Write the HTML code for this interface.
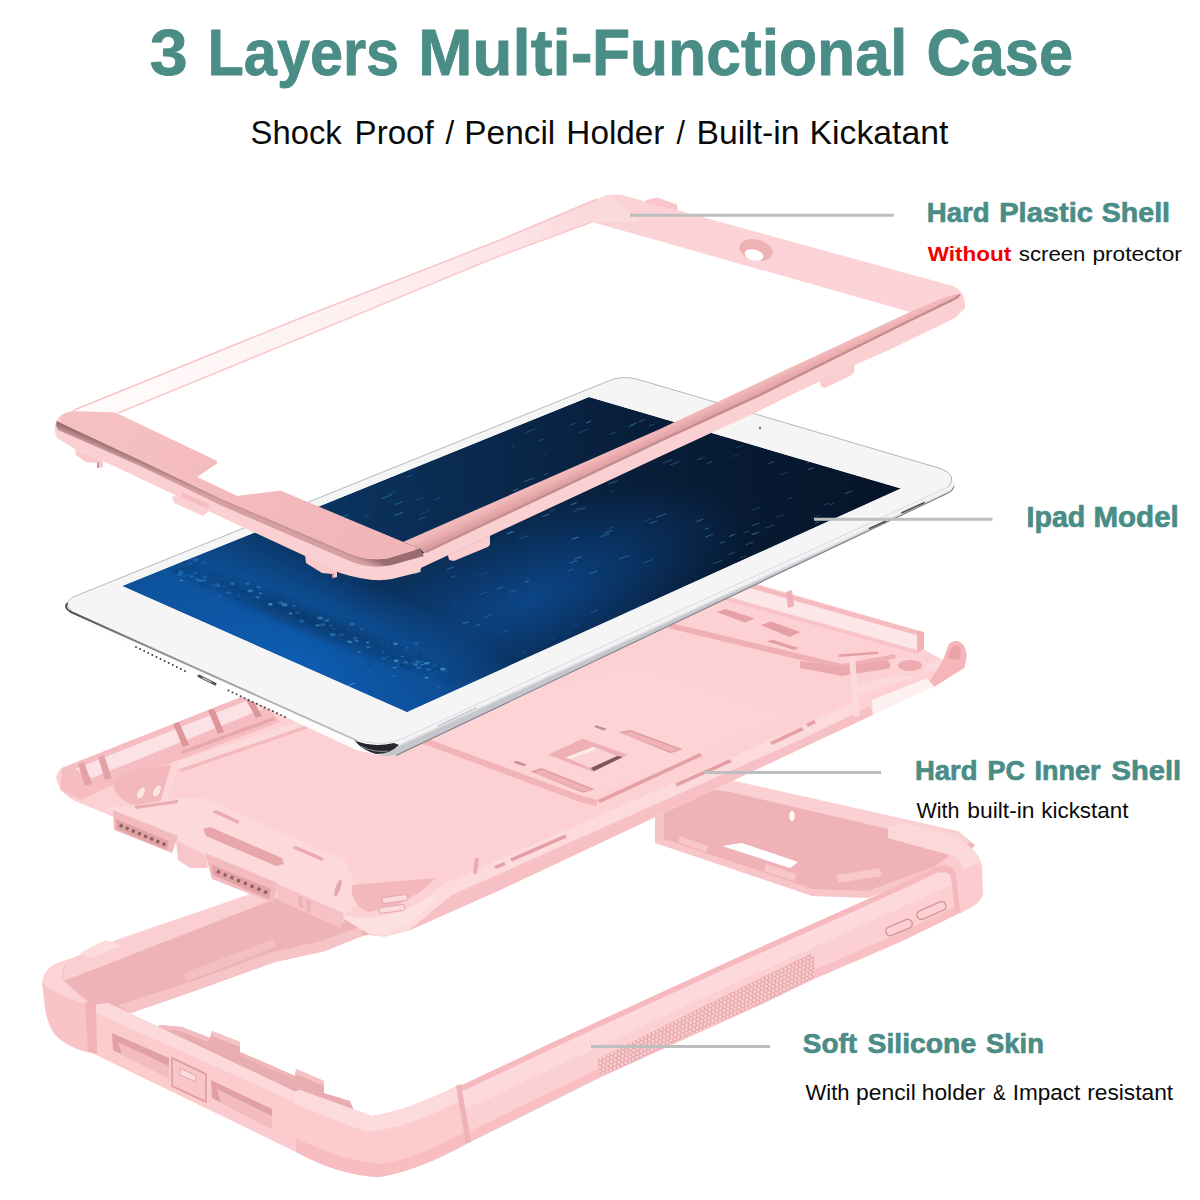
<!DOCTYPE html>
<html lang="en">
<head>
<meta charset="utf-8">
<title>3 Layers Multi-Functional Case</title>
<style>
html,body{margin:0;padding:0;background:#fff;}
body{width:1200px;height:1200px;overflow:hidden;position:relative;font-family:"Liberation Sans",sans-serif;}
svg{position:absolute;left:0;top:0;display:block}
text{font-family:"Liberation Sans",sans-serif;}
.h{font-weight:700;fill:#4a8c86;}
.s{stroke:#4a8c86;stroke-width:0.7px;stroke-linejoin:round;}
.t{stroke:#4a8c86;stroke-width:0.8px;stroke-linejoin:round;}
.b{fill:#0a0a0a;}
</style>
</head>
<body>
<svg id="art" width="1200" height="1200" viewBox="0 0 1200 1200">
<defs>
<pattern id="hex" width="4.2" height="7.2" patternUnits="userSpaceOnUse" patternTransform="rotate(-26)">
<rect width="4.2" height="7.2" fill="#df9ea2"/>
<circle cx="2.1" cy="1.8" r="1.75" fill="#fbccd0"/>
<circle cx="0" cy="5.4" r="1.75" fill="#fbccd0"/>
<circle cx="4.2" cy="5.4" r="1.75" fill="#fbccd0"/>
</pattern>
<linearGradient id="scr" gradientUnits="userSpaceOnUse" x1="150" y1="570" x2="880" y2="490">
<stop offset="0" stop-color="#0c4079"/>
<stop offset="0.4" stop-color="#0a2c52"/>
<stop offset="0.7" stop-color="#081d38"/>
<stop offset="1" stop-color="#06152a"/>
</linearGradient>
<radialGradient id="scr2" gradientUnits="userSpaceOnUse" cx="300" cy="660" r="340" gradientTransform="translate(300 660) rotate(23) scale(1 0.3) translate(-300 -660)">
<stop offset="0" stop-color="#0e5db2" stop-opacity="1"/>
<stop offset="0.5" stop-color="#0e59aa" stop-opacity="0.75"/>
<stop offset="1" stop-color="#0e59aa" stop-opacity="0"/>
</radialGradient>
<radialGradient id="scr3" gradientUnits="userSpaceOnUse" cx="530" cy="600" r="230" gradientTransform="translate(530 600) rotate(-22) scale(1 0.36) translate(-530 -600)">
<stop offset="0" stop-color="#0d4f9c" stop-opacity="0.75"/>
<stop offset="1" stop-color="#0d4f9c" stop-opacity="0"/>
</radialGradient>
<linearGradient id="lbar" gradientUnits="userSpaceOnUse" x1="100" y1="410" x2="600" y2="205">
<stop offset="0" stop-color="#fffbfb"/>
<stop offset="0.5" stop-color="#fef0f1"/>
<stop offset="0.8" stop-color="#fde5e7"/>
<stop offset="1" stop-color="#fbd7da"/>
</linearGradient>
<linearGradient id="rlip" gradientUnits="userSpaceOnUse" x1="660" y1="429" x2="665.5" y2="441">
<stop offset="0" stop-color="#f2b9ba"/>
<stop offset="0.55" stop-color="#e6a7a9"/>
<stop offset="1" stop-color="#d39a9c"/>
</linearGradient>
<linearGradient id="ftop" gradientUnits="userSpaceOnUse" x1="100" y1="410" x2="400" y2="560">
<stop offset="0" stop-color="#f6c0c3"/>
<stop offset="1" stop-color="#f1b4b7"/>
</linearGradient>
<linearGradient id="iside" gradientUnits="userSpaceOnUse" x1="660" y1="611" x2="666" y2="624">
<stop offset="0" stop-color="#c9cbd0"/>
<stop offset="0.18" stop-color="#fbfbfb"/>
<stop offset="0.8" stop-color="#f1f1f3"/>
<stop offset="1" stop-color="#c4c6cb"/>
</linearGradient>
<linearGradient id="iedge" gradientUnits="userSpaceOnUse" x1="66" y1="606" x2="356" y2="745">
<stop offset="0" stop-color="#4a4c50"/>
<stop offset="0.3" stop-color="#8d9095"/>
<stop offset="1" stop-color="#c4c6ca"/>
</linearGradient>
<radialGradient id="scr4" gradientUnits="userSpaceOnUse" cx="312" cy="621" r="175" gradientTransform="translate(312 621) rotate(22) scale(1 0.1) translate(-312 -621)">
<stop offset="0" stop-color="#072a52" stop-opacity="0.6"/>
<stop offset="1" stop-color="#072a52" stop-opacity="0"/>
</radialGradient>
<linearGradient id="tbar" gradientUnits="userSpaceOnUse" x1="600" y1="210" x2="960" y2="300">
<stop offset="0" stop-color="#fbd3d6"/>
<stop offset="1" stop-color="#fcd4d7"/>
</linearGradient>
<linearGradient id="groove" gradientUnits="userSpaceOnUse" x1="143" y1="460" x2="140" y2="467">
<stop offset="0" stop-color="#9a6e71"/>
<stop offset="1" stop-color="#d6a0a3"/>
</linearGradient>

</defs>
<rect width="1200" height="1200" fill="#fff"/>
<g id="skin">
<!-- back-left bar -->
<polygon points="48,974 70,959 116,940 300,877 300,892 66,982" fill="#fbcfd2"/>
<polygon points="80,953 95,945 106,940 122,946 90,958" fill="#fddcde"/>
<polygon points="64,981 300,889 420,850 420,925 362,936 325,951 275,962 200,989 131,1013 92,1005" fill="#eeb3b7"/>
<polygon points="131,1013 200,989 275,962 325,951 362,936 362,926 320,941 270,953 196,980 118,1005" fill="#f6c3c6"/>
<polygon points="184,973 274,939 276,947 186,982" fill="#f4bfc2"/>
<!-- back-right wall (inside visible) -->
<polygon points="655,810 700,776 732,783 956,833 975,845 960,862 868,896 813,894 655,840" fill="#efb3b7"/>
<polygon points="655,836 813,889 868,891 958,858 960,864 868,898 812,896 655,843" fill="#f8c6c9"/>
<polygon points="700,775 735,781 958,831 972,842 962,846 730,792 690,786" fill="#fbd0d3"/>
<polygon points="655,810 664,808 664,842 655,840" fill="#f7c4c7"/>
<polygon points="722,846 742,843 798,862 790,868" fill="#fff"/>
<polygon points="680,836 708,846 706,852 678,842" fill="#f7c7ca"/>
<polygon points="766,864 796,874 794,881 764,871" fill="#f7c7ca"/>
<polygon points="836,875 880,868 882,876 838,883" fill="#f7c7ca"/>
<ellipse cx="792" cy="816" rx="2.5" ry="5" fill="#fff"/>
<!-- inner back of front-left bar -->
<polygon points="150,1050 159,1025 182,1027 210,1038 212,1031 240,1042 240,1052 295,1076 296,1069 324,1081 324,1093 350,1101 353,1108 353,1130 300,1120" fill="#e8adb1"/>
<polygon points="159,1025 182,1027 210,1038 208,1042 180,1031 160,1029" fill="#f3bcc0"/>
<polygon points="212,1031 240,1042 240,1047 212,1036" fill="#f5c2c5"/>
<polygon points="296,1069 324,1081 324,1086 296,1074" fill="#f5c2c5"/>
<polygon points="240,1052 295,1076 295,1080 240,1056" fill="#f0b6ba"/>
<!-- front-left bar -->
<polygon points="92,1005 108,1003 296,1092 296,1152 92,1053" fill="#fbcbce"/>
<polygon points="92,1005 108,1003 296,1092 292,1101 96,1013" fill="#fdd9db"/>
<polygon points="112,1033 169,1058 169,1078 113,1050" fill="#e0a0a4"/>
<polygon points="118,1042 169,1066 169,1078 122,1055" fill="#f3bcc0"/>
<polygon points="211,1080 272,1109 272,1129 212,1098" fill="#e0a0a4"/>
<polygon points="217,1089 272,1116 272,1129 221,1103" fill="#f3bcc0"/>
<polygon points="172,1058 206,1074 206,1102 172,1086" fill="#f8c5c8" stroke="#dc9a9e" stroke-width="1.5"/>
<polygon points="180,1068 196,1076 196,1082 180,1075" fill="#fddcde" stroke="#e3a6aa" stroke-width="1"/>
<!-- left corner block -->
<path d="M42,983 Q44,968 60,962 L70,959 Q60,972 66,982 L92,1005 L93,1053 Q70,1050 54,1034 Q46,1020 45,1008 Z" fill="#f9c4c8"/>
<path d="M42,983 Q44,968 60,962 L70,959 Q58,970 64,982 L90,1005 Q70,1000 52,990 Z" fill="#fcd3d6"/>
<path d="M85,1003 Q90,1000 96,1004 L97,1054 L88,1052 Z" fill="#f2b3b7"/>
<!-- right bar -->
<polygon points="460,1086 560,1039 732,960 875,896 934,868 957,864 962,912 900,942 815,978.5 760,1005 700,1032 600,1077.5 470,1142" fill="#fccfd2"/>
<polygon points="460,1086 560,1039 732,960 875,896 934,868 937,873 877,901 734,965 561,1044.5 461,1092" fill="#f6b9bd"/>
<polygon points="461,1092 561,1044.5 734,965 877,901 937,873 956,868 958,882 880,917 737,982 564,1063 464,1110" fill="#fdd9dc"/>
<polygon points="468,1132 600,1068 700,1023 760,996 815,969.5 900,933 958,905 962,912 900,942 815,978.5 760,1005 700,1032 600,1077.5 470,1142" fill="#f8c0c4"/>
<!-- grip texture -->
<polygon points="598,1059 700,1008 810,954 814,956 815,977.5 760,1004 700,1031 600,1076.5 598,1073" fill="url(#hex)"/>
<!-- buttons -->
<rect x="-14" y="-4.5" width="28" height="9" rx="4.5" transform="translate(899,927.5) rotate(-23)" fill="#fccfd2" stroke="#d9969a" stroke-width="1.5"/>
<rect x="-15.5" y="-4.5" width="31" height="9" rx="4.5" transform="translate(931.5,910.5) rotate(-24)" fill="#fccfd2" stroke="#d9969a" stroke-width="1.5"/>
<!-- right corner block -->
<path d="M888,827 L903,823 L950,835 Q975,845 982,866 L983,893 Q982,904 960,913 L955,874 Q952,862 933,868 L950,855 L888,838 Z" fill="#fbcbcf"/>
<path d="M888,827 L903,823 L950,835 Q975,845 981,862 L963,870 Q960,858 950,855 L888,838 Z" fill="#fdd8db"/>
<path d="M933,868 Q952,861 956,874 L960,913 L955,910 L951,878 Q949,870 938,873 Z" fill="#f4b8bc"/>
<!-- bottom corner block -->
<path d="M292,1092 L300,1090 L372,1116 Q410,1110 458,1085 L468,1143 Q420,1170 380,1177 Q340,1176 296,1152 Z" fill="#fbcbce"/>
<path d="M292,1092 L300,1090 L372,1116 Q410,1110 458,1085 L461,1100 Q410,1128 366,1132 L294,1104 Z" fill="#fddadc"/>
<path d="M296,1138 Q340,1160 380,1164 Q420,1158 466,1131 L468,1143 Q420,1170 380,1177 Q340,1176 296,1152 Z" fill="#f7bdc1"/>
<path d="M456,1086 L461,1084 L471,1142 L466,1144 Z" fill="#efb2b6"/>
</g>

<g id="shell">
<!-- body -->
<path d="M56,778 Q57,770 64,767 L250,693.5 L669,558.5 L923,632 L923,649 L943,660 L949,644 Q957,637 964,646 Q969,655 964,668 L800,749 L500,890 L408,930 Q380,940 368,934 L343,916 L280,886 L80,803 Q60,796 56,778 Z" fill="#fdd0d3"/>
<!-- back wall band (translucent) -->
<polygon points="690,566 923,632 923,648 917,653 700,592" fill="#fce6e8"/>
<polygon points="690,566 923,632 923,637 690,571" fill="#f5bcc0"/>
<polygon points="700,589 917,650 917,654 700,593" fill="#f7c3c7"/>
<polygon points="786,592 792,590 794,606 788,608" fill="#eeb0b4"/>
<polygon points="917,631 924,632 924,649 917,653" fill="#f1b1b5"/>
<!-- rim along right-bottom edge -->
<polygon points="444,884 800,727 855,701 860,713 800,749 500,890 408,931 380,938" fill="#fddadc"/>
<polygon points="452,895 800,740 870,706 873,715 800,749 500,890 408,931" fill="#f7c0c4"/>
<!-- left wall with ribs -->
<polygon points="62,768 250,693.5 262,700 280,722 113,785 80,800 60,790" fill="#f5bdc1"/>
<polygon points="75,769 250,699.5 263,709 92,778" fill="#fce2e4"/>
<polygon points="78,764 84,762 92,784 85,786" fill="#e5a2a6"/>
<polygon points="98,757 104,755 112,778 105,780" fill="#e5a2a6"/>
<polygon points="173,724 179,722 189,745 183,747" fill="#dc979b"/>
<polygon points="208,710.5 214,708.5 224,732 218,734" fill="#dc979b"/>
<polygon points="244,696.5 250,694.5 262,716 256,718" fill="#dc979b"/>
<polygon points="172,763 300,721 340,708 342,713 302,727 180,769" fill="#fcdadc"/>
<polygon points="180,769 302,727 342,713 343,716 303,730 181,772" fill="#f3b9bd"/>
<polygon points="181,751 274,717 275,720 182,754" fill="#e7a6aa"/>
<!-- left corner recess -->
<path d="M113,786 Q118,775 134,770 L178,764 L166,800 L150,808 Q120,806 113,786 Z" fill="#f3b8bc"/>
<polygon points="172,762 180,760 168,801 160,803" fill="#fcd6d9"/>
<ellipse cx="141" cy="793" rx="3" ry="6" transform="rotate(28 141 793)" fill="#fde6e7"/>
<ellipse cx="157" cy="791" rx="3" ry="6" transform="rotate(28 157 791)" fill="#fde6e7"/>
<!-- light plate along front edge -->
<path d="M132,806 L178,798 Q196,796 208,800 L345,860 L362,900 L343,916 L280,886 L100,808 Z" fill="#fdd9dc"/>
<polygon points="134,806 178,800 178,803 136,809" fill="#eaacb0"/>
<polygon points="212,812 216,810 240,821 238,824" fill="#eaacb0"/>
<polygon points="292,848 296,846 324,858 322,861" fill="#eaacb0"/>
<path d="M203,829 L210,827 L282,858 L284,864 L276,866 L206,836 Z" fill="#e7a6aa"/>
<!-- grille blocks -->
<polygon points="113,810 178,836 172,853 114,830" fill="#f4bbbf"/>
<polygon points="116,819 169,841 167,850 116,829" fill="#e2a1a5"/><rect x="119.5" y="824.2" width="3.2" height="3.2" fill="#8e5f63" transform="rotate(22 121.1 825.8)"/><rect x="125.6" y="826.8" width="3.2" height="3.2" fill="#8e5f63" transform="rotate(22 127.2 828.4)"/><rect x="131.7" y="829.5" width="3.2" height="3.2" fill="#8e5f63" transform="rotate(22 133.3 831.1)"/><rect x="137.8" y="832.1" width="3.2" height="3.2" fill="#8e5f63" transform="rotate(22 139.4 833.7)"/><rect x="144.0" y="834.7" width="3.2" height="3.2" fill="#8e5f63" transform="rotate(22 145.6 836.3)"/><rect x="150.1" y="837.3" width="3.2" height="3.2" fill="#8e5f63" transform="rotate(22 151.7 838.9)"/><rect x="156.2" y="840.0" width="3.2" height="3.2" fill="#8e5f63" transform="rotate(22 157.8 841.6)"/><rect x="162.3" y="842.6" width="3.2" height="3.2" fill="#8e5f63" transform="rotate(22 163.9 844.2)"/>
<polygon points="205,853 278,883 273,903 212,879" fill="#f4bbbf"/><path d="M276,883 L343,913 L345,920 L340,928 L278,900 Z" fill="#f7c2c6"/><polygon points="298,895 302,897 303,909 299,907" fill="#eeb0b4"/><polygon points="306,899 310,901 311,913 307,911" fill="#eeb0b4"/>
<polygon points="212,865 271,889 269,899 213,875" fill="#e2a1a5"/><rect x="216.8" y="870.3" width="3.2" height="3.2" fill="#8e5f63" transform="rotate(22 218.4 871.9)"/><rect x="223.5" y="873.2" width="3.2" height="3.2" fill="#8e5f63" transform="rotate(22 225.1 874.8)"/><rect x="230.3" y="876.1" width="3.2" height="3.2" fill="#8e5f63" transform="rotate(22 231.9 877.7)"/><rect x="237.0" y="879.0" width="3.2" height="3.2" fill="#8e5f63" transform="rotate(22 238.6 880.6)"/><rect x="243.8" y="881.8" width="3.2" height="3.2" fill="#8e5f63" transform="rotate(22 245.4 883.4)"/><rect x="250.5" y="884.7" width="3.2" height="3.2" fill="#8e5f63" transform="rotate(22 252.1 886.3)"/><rect x="257.3" y="887.6" width="3.2" height="3.2" fill="#8e5f63" transform="rotate(22 258.9 889.2)"/><rect x="264.0" y="890.5" width="3.2" height="3.2" fill="#8e5f63" transform="rotate(22 265.6 892.1)"/>
<polygon points="176,840 206,856 208,868 190,868 178,860" fill="#f8c5c8"/>
<!-- bottom corner recess -->
<path d="M352,885 L436,878 L420,892 L392,908 L368,912 Q350,904 352,885 Z" fill="#f3b8bc"/>
<rect x="-13" y="-3" width="26" height="6" rx="3" transform="translate(395,899) rotate(-8)" fill="#fcdadc" stroke="#e6a7ab" stroke-width="1"/>
<rect x="-13" y="-3" width="26" height="6" rx="3" transform="translate(392,909) rotate(-8)" fill="#fcdadc" stroke="#e6a7ab" stroke-width="1"/>
<path d="M344,916 Q372,920 400,912 Q420,904 432,894 L436,900 Q410,926 380,936 Q366,934 343,918 Z" fill="#fde0e2"/>
<ellipse cx="338" cy="888" rx="2.5" ry="9" transform="rotate(18 338 888)" fill="#e7a6aa"/>
<!-- kickstand recess -->
<polygon points="423,737 585,798 701,755 790,715 640,664 521,692" fill="#fdd8da" opacity="0.4"/>
<polygon points="423,737 585,797 583,803 421,743" fill="#f1b4b8"/>
<polygon points="585,797 598,800 596,806 583,803" fill="#f1b4b8"/>
<!-- slots centre -->
<polygon points="618.7,732 630.7,730 682.7,749.3 670.7,753.3" fill="#e29ea2"/>
<polygon points="622,733.5 631,731.8 679,749.5 671,751.8" fill="#eeb2b6"/>
<polygon points="530.7,771.5 541.3,768 594.7,789.3 582.7,792.8" fill="#e29ea2"/>
<polygon points="534,773 542,770 591,789.5 583,791.5" fill="#eeb2b6"/>
<polygon points="548,754.7 582.7,738.7 628,754.7 593.3,772" fill="#eeb0b4"/>
<polygon points="565.3,757.3 593.3,746.7 617.3,756 590.7,768" fill="#fbd3d6"/>
<polygon points="566,757.5 593,747.2 597,748.8 570,759.3" fill="#fdeced"/>
<polygon points="590.7,768 617.3,756 623,757 594,771" fill="#7e5558"/>
<polygon points="596,725.3 606.7,728.8 604,730.5 594,727" fill="#c98b8f"/>
<polygon points="516,760.8 526.7,764.5 524,766.2 513.5,762.5" fill="#c98b8f"/>
<!-- thin slots along edge -->
<polygon points="598,800 700,753 702,756 600,803" fill="#e4a0a4"/>
<polygon points="675,783.5 730,759 732,762 677,786.5" fill="#e4a0a4"/>
<polygon points="510,858.5 565,834.5 567,837.5 512,861.5" fill="#e4a0a4"/>
<polygon points="494,866 504,862 506,865 496,869" fill="#e4a0a4"/>
<polygon points="770,742 802,727 804,730 772,745" fill="#e4a0a4"/>
<polygon points="806,724 814,720 816,723 808,727" fill="#e4a0a4"/>
<!-- upper right raised plate edge + slots -->
<polygon points="671,623 842,664 895,654 896,658 842,670 668,628" fill="#efb0b4"/>
<polygon points="716.5,612 726,609 754.5,618.5 745,622.5" fill="#e4a0a4"/>
<polygon points="761,625 770.5,621.5 800.5,632 789.5,637" fill="#e4a0a4"/>
<polygon points="767,641.5 772,639.5 799,648 794,650" fill="#e4a0a4"/>
<polygon points="838.5,654.5 878,651.5 878,654 838.5,657" fill="#e4a0a4"/>
<!-- X brace & camera ring near right corner -->
<polygon points="800,661 842,667 888,660 892,668 842,676 800,668" fill="#eca9ad"/>
<polygon points="849,658 855,657 860,716 854,717" fill="#fcdadc"/>
<polygon points="853,688 940,660 944,667 857,696" fill="#fcdadc"/>
<ellipse cx="908" cy="667" rx="18" ry="9.5" fill="#fbd3d6"/>
<ellipse cx="910" cy="665.5" rx="12" ry="5.5" fill="#efacb0"/>
<!-- translucent wedge at right -->
<polygon points="872,700 927,678 933,687 873,715" fill="#fef1f1"/>
<path d="M943,660 L949,644 Q957,637 964,646 Q969,655 964,668 L934,687 L930,681 Z" fill="#f5b6ba"/>
<path d="M947,658 L952,647 Q957,643 961,649 L960,660 Z" fill="#e9a4a8"/>
<!-- small notches on edge -->
<rect x="474" y="858" width="4" height="16" transform="rotate(8 476 866)" fill="#eaacb0"/>
</g>

<g id="ipad">
<polygon points="67,607 378,740 379,755 356,750 72,617" fill="#fdfdfd"/>
<path d="M378,740 L952,478 Q957,483 954,488 Q952,492 946,494 L404,752 Q390,758 378,755 Z" fill="url(#iside)"/>
<path d="M396,755.5 L946,494 Q953,491 954,486" stroke="#7d8086" stroke-width="1.1" fill="none"/>
<path d="M354,740 Q372,748 394,743 L399,745 Q390,754 376,754 Q362,750 354,740 Z" fill="#26282c"/>
<path d="M360,746 Q374,753 388,751" stroke="#8a8d93" stroke-width="1" fill="none"/>
<path d="M73,597 L606,382 Q622,374 640,380 L942,469 Q958,476 948,487 L404,738 Q382,748 360,740 L72,611 Q62,604 73,597 Z" fill="#f5f5f6"/>
<path d="M72,611 Q62,604 73,597 L606,382 Q622,374 640,380 L942,469 Q958,476 948,487" fill="none" stroke="#b4b7bc" stroke-width="1"/>
<path d="M948,487 L404,738 Q382,748 360,740" fill="none" stroke="#d9dadd" stroke-width="1"/>
<path d="M67.5,603 Q63.5,608 71,612 L358,741" stroke="url(#iedge)" stroke-width="2" fill="none"/>
<clipPath id="scrclip"><polygon points="122.5,586 589,397 901,488.5 407,712"/></clipPath>
<g clip-path="url(#scrclip)">
<polygon points="122.5,586 589,397 901,488.5 407,712" fill="url(#scr)"/>
<rect x="100" y="380" width="820" height="340" fill="url(#scr2)"/>
<rect x="100" y="380" width="820" height="340" fill="url(#scr3)"/>
<rect x="100" y="380" width="820" height="340" fill="url(#scr4)"/>
<line x1="450.9" y1="577.6" x2="455.1" y2="576.1" stroke="#3fa0d8" stroke-width="1.1" opacity="0.40"/>
<line x1="343.0" y1="516.6" x2="348.4" y2="514.6" stroke="#3fa0d8" stroke-width="1.1" opacity="0.42"/>
<line x1="418.3" y1="663.3" x2="423.5" y2="661.4" stroke="#3fa0d8" stroke-width="1.1" opacity="0.45"/>
<line x1="478.0" y1="575.8" x2="488.2" y2="572.2" stroke="#2b86c4" stroke-width="1.1" opacity="0.22"/>
<line x1="300.9" y1="541.3" x2="310.0" y2="538.0" stroke="#2b86c4" stroke-width="1.1" opacity="0.27"/>
<line x1="489.6" y1="522.4" x2="493.8" y2="520.9" stroke="#2b86c4" stroke-width="1.1" opacity="0.22"/>
<line x1="519.0" y1="538.9" x2="527.9" y2="535.7" stroke="#2f7fb8" stroke-width="1.1" opacity="0.39"/>
<line x1="541.3" y1="456.4" x2="545.6" y2="454.9" stroke="#2f7fb8" stroke-width="1.1" opacity="0.32"/>
<line x1="729.3" y1="536.4" x2="735.0" y2="534.3" stroke="#3fa0d8" stroke-width="1.1" opacity="0.59"/>
<line x1="664.0" y1="441.7" x2="670.5" y2="439.3" stroke="#3fa0d8" stroke-width="1.1" opacity="0.58"/>
<line x1="619.4" y1="558.9" x2="628.9" y2="555.5" stroke="#56b4e6" stroke-width="1.1" opacity="0.33"/>
<line x1="571.6" y1="539.4" x2="578.4" y2="537.0" stroke="#56b4e6" stroke-width="1.1" opacity="0.54"/>
<line x1="575.9" y1="509.3" x2="580.0" y2="507.8" stroke="#2f7fb8" stroke-width="1.1" opacity="0.48"/>
<line x1="386.5" y1="545.2" x2="394.6" y2="542.2" stroke="#2f7fb8" stroke-width="1.1" opacity="0.21"/>
<line x1="514.6" y1="507.8" x2="521.6" y2="505.3" stroke="#56b4e6" stroke-width="1.1" opacity="0.29"/>
<line x1="649.6" y1="458.8" x2="653.9" y2="457.3" stroke="#56b4e6" stroke-width="1.1" opacity="0.38"/>
<line x1="775.9" y1="517.5" x2="785.4" y2="514.1" stroke="#2f7fb8" stroke-width="1.1" opacity="0.31"/>
<line x1="740.2" y1="558.0" x2="746.4" y2="555.8" stroke="#3fa0d8" stroke-width="1.1" opacity="0.29"/>
<line x1="418.2" y1="519.8" x2="425.9" y2="517.1" stroke="#3fa0d8" stroke-width="1.1" opacity="0.31"/>
<line x1="415.5" y1="500.6" x2="423.2" y2="497.8" stroke="#2b86c4" stroke-width="1.1" opacity="0.33"/>
<line x1="569.2" y1="563.3" x2="577.0" y2="560.5" stroke="#3fa0d8" stroke-width="1.1" opacity="0.47"/>
<line x1="669.7" y1="465.2" x2="679.7" y2="461.6" stroke="#2f7fb8" stroke-width="1.1" opacity="0.47"/>
<line x1="423.9" y1="556.3" x2="430.9" y2="553.7" stroke="#2b86c4" stroke-width="1.1" opacity="0.36"/>
<line x1="328.8" y1="540.3" x2="332.9" y2="538.8" stroke="#2b86c4" stroke-width="1.1" opacity="0.20"/>
<line x1="731.9" y1="456.7" x2="739.7" y2="453.9" stroke="#2b86c4" stroke-width="1.1" opacity="0.23"/>
<line x1="358.7" y1="549.1" x2="364.9" y2="546.9" stroke="#2f7fb8" stroke-width="1.1" opacity="0.25"/>
<line x1="635.1" y1="607.1" x2="642.1" y2="604.6" stroke="#3fa0d8" stroke-width="1.1" opacity="0.23"/>
<line x1="696.4" y1="521.4" x2="703.3" y2="518.9" stroke="#3fa0d8" stroke-width="1.1" opacity="0.48"/>
<line x1="630.4" y1="425.2" x2="636.5" y2="423.0" stroke="#3fa0d8" stroke-width="1.1" opacity="0.48"/>
<line x1="483.5" y1="617.4" x2="491.5" y2="614.5" stroke="#56b4e6" stroke-width="1.1" opacity="0.24"/>
<line x1="706.6" y1="463.4" x2="712.7" y2="461.2" stroke="#56b4e6" stroke-width="1.1" opacity="0.29"/>
<line x1="600.4" y1="536.8" x2="609.3" y2="533.6" stroke="#2b86c4" stroke-width="1.1" opacity="0.50"/>
<line x1="751.7" y1="510.1" x2="760.4" y2="507.0" stroke="#2f7fb8" stroke-width="1.1" opacity="0.29"/>
<line x1="524.2" y1="481.6" x2="534.3" y2="477.9" stroke="#56b4e6" stroke-width="1.1" opacity="0.38"/>
<line x1="573.9" y1="625.4" x2="579.1" y2="623.5" stroke="#2b86c4" stroke-width="1.1" opacity="0.29"/>
<line x1="448.2" y1="531.7" x2="458.5" y2="528.0" stroke="#3fa0d8" stroke-width="1.1" opacity="0.44"/>
<line x1="572.1" y1="512.2" x2="581.2" y2="508.9" stroke="#3fa0d8" stroke-width="1.1" opacity="0.23"/>
<line x1="765.8" y1="528.2" x2="774.5" y2="525.1" stroke="#2b86c4" stroke-width="1.1" opacity="0.39"/>
<line x1="550.2" y1="511.0" x2="554.5" y2="509.4" stroke="#2f7fb8" stroke-width="1.1" opacity="0.58"/>
<line x1="610.5" y1="492.0" x2="614.8" y2="490.4" stroke="#2b86c4" stroke-width="1.1" opacity="0.26"/>
<line x1="406.4" y1="477.2" x2="413.2" y2="474.8" stroke="#2f7fb8" stroke-width="1.1" opacity="0.46"/>
<line x1="479.3" y1="594.6" x2="486.7" y2="592.0" stroke="#3fa0d8" stroke-width="1.1" opacity="0.25"/>
<line x1="704.7" y1="529.4" x2="709.2" y2="527.8" stroke="#2b86c4" stroke-width="1.1" opacity="0.50"/>
<line x1="663.0" y1="462.9" x2="672.2" y2="459.5" stroke="#56b4e6" stroke-width="1.1" opacity="0.28"/>
<line x1="419.8" y1="514.4" x2="428.5" y2="511.2" stroke="#2f7fb8" stroke-width="1.1" opacity="0.33"/>
<line x1="389.6" y1="677.8" x2="398.3" y2="674.7" stroke="#2f7fb8" stroke-width="1.1" opacity="0.56"/>
<line x1="787.5" y1="499.2" x2="792.1" y2="497.5" stroke="#3fa0d8" stroke-width="1.1" opacity="0.26"/>
<line x1="751.7" y1="525.8" x2="759.5" y2="523.0" stroke="#2b86c4" stroke-width="1.1" opacity="0.51"/>
<line x1="394.7" y1="515.4" x2="403.2" y2="512.3" stroke="#56b4e6" stroke-width="1.1" opacity="0.42"/>
<line x1="574.2" y1="559.2" x2="581.1" y2="556.7" stroke="#3fa0d8" stroke-width="1.1" opacity="0.51"/>
<line x1="589.8" y1="573.8" x2="597.3" y2="571.1" stroke="#3fa0d8" stroke-width="1.1" opacity="0.50"/>
<line x1="541.8" y1="516.7" x2="548.9" y2="514.2" stroke="#56b4e6" stroke-width="1.1" opacity="0.40"/>
<line x1="506.6" y1="533.9" x2="513.5" y2="531.4" stroke="#56b4e6" stroke-width="1.1" opacity="0.58"/>
<line x1="824.2" y1="505.1" x2="829.3" y2="503.3" stroke="#2f7fb8" stroke-width="1.1" opacity="0.38"/>
<line x1="364.8" y1="515.9" x2="369.1" y2="514.4" stroke="#3fa0d8" stroke-width="1.1" opacity="0.30"/>
<line x1="326.0" y1="553.4" x2="330.6" y2="551.7" stroke="#56b4e6" stroke-width="1.1" opacity="0.51"/>
<line x1="578.5" y1="432.8" x2="588.6" y2="429.1" stroke="#3fa0d8" stroke-width="1.1" opacity="0.29"/>
<line x1="468.4" y1="537.4" x2="478.7" y2="533.7" stroke="#2b86c4" stroke-width="1.1" opacity="0.53"/>
<line x1="806.5" y1="462.9" x2="812.9" y2="460.6" stroke="#56b4e6" stroke-width="1.1" opacity="0.37"/>
<line x1="556.3" y1="481.7" x2="560.2" y2="480.3" stroke="#2f7fb8" stroke-width="1.1" opacity="0.42"/>
<line x1="509.3" y1="592.6" x2="516.4" y2="590.0" stroke="#3fa0d8" stroke-width="1.1" opacity="0.32"/>
<line x1="586.0" y1="423.0" x2="591.2" y2="421.1" stroke="#3fa0d8" stroke-width="1.1" opacity="0.55"/>
<line x1="476.1" y1="625.8" x2="480.7" y2="624.1" stroke="#56b4e6" stroke-width="1.1" opacity="0.37"/>
<line x1="494.3" y1="528.2" x2="501.5" y2="525.6" stroke="#56b4e6" stroke-width="1.1" opacity="0.40"/>
<line x1="524.8" y1="582.2" x2="529.0" y2="580.7" stroke="#3fa0d8" stroke-width="1.1" opacity="0.58"/>
<line x1="391.5" y1="668.9" x2="400.9" y2="665.5" stroke="#3fa0d8" stroke-width="1.1" opacity="0.23"/>
<line x1="414.0" y1="573.8" x2="421.4" y2="571.1" stroke="#56b4e6" stroke-width="1.1" opacity="0.57"/>
<line x1="780.3" y1="475.1" x2="790.4" y2="471.5" stroke="#2b86c4" stroke-width="1.1" opacity="0.30"/>
<line x1="327.2" y1="550.3" x2="332.9" y2="548.2" stroke="#56b4e6" stroke-width="1.1" opacity="0.50"/>
<line x1="571.1" y1="504.8" x2="576.6" y2="502.8" stroke="#56b4e6" stroke-width="1.1" opacity="0.52"/>
<line x1="736.2" y1="447.8" x2="743.4" y2="445.2" stroke="#2f7fb8" stroke-width="1.1" opacity="0.30"/>
<line x1="537.2" y1="441.6" x2="543.8" y2="439.2" stroke="#2f7fb8" stroke-width="1.1" opacity="0.40"/>
<line x1="550.3" y1="639.8" x2="555.5" y2="637.9" stroke="#2b86c4" stroke-width="1.1" opacity="0.29"/>
<line x1="705.1" y1="537.0" x2="713.1" y2="534.1" stroke="#56b4e6" stroke-width="1.1" opacity="0.36"/>
<line x1="814.9" y1="523.2" x2="818.8" y2="521.8" stroke="#56b4e6" stroke-width="1.1" opacity="0.45"/>
<line x1="496.4" y1="589.1" x2="503.5" y2="586.5" stroke="#2b86c4" stroke-width="1.1" opacity="0.59"/>
<line x1="293.4" y1="517.6" x2="299.4" y2="515.4" stroke="#56b4e6" stroke-width="1.1" opacity="0.59"/>
<line x1="649.0" y1="426.1" x2="654.8" y2="424.0" stroke="#3fa0d8" stroke-width="1.1" opacity="0.34"/>
<line x1="512.9" y1="490.8" x2="518.3" y2="488.9" stroke="#3fa0d8" stroke-width="1.1" opacity="0.51"/>
<line x1="271.0" y1="531.1" x2="276.3" y2="529.2" stroke="#2b86c4" stroke-width="1.1" opacity="0.43"/>
<line x1="656.5" y1="517.3" x2="666.1" y2="513.8" stroke="#56b4e6" stroke-width="1.1" opacity="0.36"/>
<line x1="567.9" y1="571.1" x2="573.5" y2="569.1" stroke="#2b86c4" stroke-width="1.1" opacity="0.45"/>
<line x1="525.6" y1="432.4" x2="535.3" y2="428.9" stroke="#2b86c4" stroke-width="1.1" opacity="0.45"/>
<line x1="751.4" y1="534.7" x2="758.9" y2="532.0" stroke="#3fa0d8" stroke-width="1.1" opacity="0.53"/>
<line x1="643.4" y1="563.1" x2="653.0" y2="559.6" stroke="#2b86c4" stroke-width="1.1" opacity="0.47"/>
<line x1="768.2" y1="463.8" x2="774.4" y2="461.6" stroke="#3fa0d8" stroke-width="1.1" opacity="0.38"/>
<line x1="604.0" y1="533.2" x2="612.3" y2="530.2" stroke="#3fa0d8" stroke-width="1.1" opacity="0.40"/>
<line x1="829.7" y1="504.9" x2="834.0" y2="503.3" stroke="#2f7fb8" stroke-width="1.1" opacity="0.41"/>
<line x1="543.6" y1="474.9" x2="548.7" y2="473.1" stroke="#2f7fb8" stroke-width="1.1" opacity="0.50"/>
<line x1="446.7" y1="569.4" x2="453.6" y2="566.9" stroke="#3fa0d8" stroke-width="1.1" opacity="0.47"/>
<line x1="608.8" y1="528.6" x2="613.1" y2="527.0" stroke="#56b4e6" stroke-width="1.1" opacity="0.26"/>
<line x1="643.5" y1="521.6" x2="651.4" y2="518.7" stroke="#2f7fb8" stroke-width="1.1" opacity="0.25"/>
<line x1="649.4" y1="523.8" x2="657.6" y2="520.8" stroke="#56b4e6" stroke-width="1.1" opacity="0.32"/>
<line x1="478.2" y1="548.9" x2="482.7" y2="547.3" stroke="#2b86c4" stroke-width="1.1" opacity="0.56"/>
<line x1="381.7" y1="498.5" x2="392.0" y2="494.8" stroke="#2f7fb8" stroke-width="1.1" opacity="0.60"/>
<line x1="628.8" y1="426.9" x2="633.9" y2="425.0" stroke="#2b86c4" stroke-width="1.1" opacity="0.43"/>
<line x1="462.7" y1="623.9" x2="468.8" y2="621.7" stroke="#56b4e6" stroke-width="1.1" opacity="0.44"/>
<line x1="720.1" y1="543.3" x2="725.4" y2="541.4" stroke="#2f7fb8" stroke-width="1.1" opacity="0.56"/>
<line x1="728.5" y1="554.5" x2="735.0" y2="552.2" stroke="#2f7fb8" stroke-width="1.1" opacity="0.49"/>
<line x1="370.8" y1="565.8" x2="380.1" y2="562.5" stroke="#56b4e6" stroke-width="1.1" opacity="0.20"/>
<line x1="420.0" y1="665.6" x2="429.9" y2="662.0" stroke="#56b4e6" stroke-width="1.1" opacity="0.49"/>
<line x1="648.7" y1="459.0" x2="652.9" y2="457.5" stroke="#56b4e6" stroke-width="1.1" opacity="0.57"/>
<line x1="503.0" y1="632.3" x2="507.1" y2="630.8" stroke="#2b86c4" stroke-width="1.1" opacity="0.46"/>
<line x1="684.6" y1="440.0" x2="694.2" y2="436.5" stroke="#2f7fb8" stroke-width="1.1" opacity="0.52"/>
<line x1="844.8" y1="493.7" x2="852.2" y2="491.0" stroke="#3fa0d8" stroke-width="1.1" opacity="0.49"/>
<line x1="590.3" y1="612.7" x2="598.1" y2="609.9" stroke="#56b4e6" stroke-width="1.1" opacity="0.26"/>
<line x1="698.2" y1="459.6" x2="705.6" y2="456.9" stroke="#2f7fb8" stroke-width="1.1" opacity="0.27"/>
<line x1="808.0" y1="469.7" x2="813.5" y2="467.7" stroke="#56b4e6" stroke-width="1.1" opacity="0.46"/>
<line x1="580.9" y1="509.3" x2="585.4" y2="507.7" stroke="#3fa0d8" stroke-width="1.1" opacity="0.46"/>
<line x1="609.4" y1="434.5" x2="616.5" y2="431.9" stroke="#56b4e6" stroke-width="1.1" opacity="0.29"/>
<line x1="628.2" y1="611.0" x2="632.9" y2="609.4" stroke="#3fa0d8" stroke-width="1.1" opacity="0.28"/>
<line x1="434.2" y1="499.6" x2="440.0" y2="497.5" stroke="#2b86c4" stroke-width="1.1" opacity="0.35"/>
<line x1="742.9" y1="533.2" x2="749.4" y2="530.8" stroke="#2b86c4" stroke-width="1.1" opacity="0.37"/>
<line x1="391.0" y1="565.2" x2="395.2" y2="563.7" stroke="#56b4e6" stroke-width="1.1" opacity="0.31"/>
<line x1="394.9" y1="504.5" x2="402.8" y2="501.7" stroke="#2b86c4" stroke-width="1.1" opacity="0.55"/>
<line x1="569.5" y1="425.3" x2="575.8" y2="423.0" stroke="#2f7fb8" stroke-width="1.1" opacity="0.46"/>
<line x1="812.1" y1="517.9" x2="821.6" y2="514.4" stroke="#3fa0d8" stroke-width="1.1" opacity="0.21"/>
<line x1="608.7" y1="484.0" x2="617.7" y2="480.8" stroke="#2f7fb8" stroke-width="1.1" opacity="0.59"/>
<line x1="305.2" y1="512.0" x2="315.1" y2="508.5" stroke="#2f7fb8" stroke-width="1.1" opacity="0.53"/>
<line x1="521.7" y1="653.2" x2="526.1" y2="651.6" stroke="#3fa0d8" stroke-width="1.1" opacity="0.26"/>
<line x1="745.7" y1="544.8" x2="753.7" y2="541.9" stroke="#2f7fb8" stroke-width="1.1" opacity="0.51"/>
<line x1="510.9" y1="447.6" x2="514.7" y2="446.2" stroke="#3fa0d8" stroke-width="1.1" opacity="0.25"/>
<line x1="453.3" y1="603.2" x2="457.9" y2="601.5" stroke="#2f7fb8" stroke-width="1.1" opacity="0.30"/>
<line x1="388.2" y1="494.5" x2="395.8" y2="491.7" stroke="#2b86c4" stroke-width="1.1" opacity="0.36"/>
<line x1="348.0" y1="685.4" x2="355.3" y2="682.7" stroke="#56b4e6" stroke-width="1.1" opacity="0.60"/>
<line x1="713.0" y1="563.7" x2="722.6" y2="560.2" stroke="#2b86c4" stroke-width="1.1" opacity="0.39"/>
<line x1="550.1" y1="505.9" x2="554.2" y2="504.4" stroke="#2f7fb8" stroke-width="1.1" opacity="0.28"/>
<line x1="420.2" y1="564.1" x2="427.3" y2="561.5" stroke="#2f7fb8" stroke-width="1.1" opacity="0.48"/>
<line x1="414.4" y1="551.8" x2="418.2" y2="550.4" stroke="#3fa0d8" stroke-width="1.1" opacity="0.32"/>
<line x1="638.8" y1="421.7" x2="644.6" y2="419.6" stroke="#2b86c4" stroke-width="1.1" opacity="0.53"/>
<line x1="429.0" y1="674.1" x2="436.9" y2="671.3" stroke="#2b86c4" stroke-width="1.1" opacity="0.44"/>
<line x1="697.3" y1="459.8" x2="701.5" y2="458.3" stroke="#2f7fb8" stroke-width="1.1" opacity="0.44"/>
<ellipse cx="326.7" cy="636.6" rx="1.4" ry="0.8" fill="#0a3a70" opacity="0.33"/>
<ellipse cx="416.0" cy="643.3" rx="3.0" ry="1.6" fill="#2f93d6" opacity="0.28"/>
<ellipse cx="344.7" cy="637.0" rx="1.7" ry="0.9" fill="#0a3a70" opacity="0.44"/>
<ellipse cx="274.0" cy="610.1" rx="1.0" ry="0.6" fill="#7ccaf2" opacity="0.26"/>
<ellipse cx="298.3" cy="607.0" rx="2.6" ry="1.4" fill="#0a3a70" opacity="0.30"/>
<ellipse cx="406.2" cy="651.3" rx="1.1" ry="0.6" fill="#7ccaf2" opacity="0.34"/>
<ellipse cx="316.1" cy="627.4" rx="2.6" ry="1.4" fill="#0a3a70" opacity="0.34"/>
<ellipse cx="292.8" cy="601.5" rx="1.1" ry="0.6" fill="#4fb2ea" opacity="0.16"/>
<ellipse cx="402.4" cy="656.5" rx="1.2" ry="0.6" fill="#7ccaf2" opacity="0.39"/>
<ellipse cx="260.3" cy="593.3" rx="1.6" ry="0.9" fill="#7ccaf2" opacity="0.44"/>
<ellipse cx="426.6" cy="677.7" rx="2.3" ry="1.2" fill="#4fb2ea" opacity="0.47"/>
<ellipse cx="179.8" cy="574.5" rx="3.0" ry="1.6" fill="#1f7cc2" opacity="0.53"/>
<ellipse cx="407.3" cy="647.8" rx="1.3" ry="0.7" fill="#4fb2ea" opacity="0.35"/>
<ellipse cx="395.5" cy="643.8" rx="2.6" ry="1.4" fill="#7ccaf2" opacity="0.39"/>
<ellipse cx="397.9" cy="664.0" rx="2.3" ry="1.2" fill="#1f7cc2" opacity="0.35"/>
<ellipse cx="382.9" cy="651.5" rx="1.1" ry="0.6" fill="#7ccaf2" opacity="0.37"/>
<ellipse cx="213.2" cy="584.3" rx="1.2" ry="0.6" fill="#2f93d6" opacity="0.40"/>
<ellipse cx="184.8" cy="575.9" rx="2.0" ry="1.1" fill="#1f7cc2" opacity="0.24"/>
<ellipse cx="306.2" cy="613.9" rx="2.2" ry="1.2" fill="#0a3a70" opacity="0.46"/>
<ellipse cx="210.0" cy="574.4" rx="2.2" ry="1.2" fill="#0a3a70" opacity="0.30"/>
<ellipse cx="239.5" cy="595.6" rx="1.5" ry="0.8" fill="#3aa0e0" opacity="0.26"/>
<ellipse cx="231.0" cy="587.9" rx="1.6" ry="0.8" fill="#0a3a70" opacity="0.36"/>
<ellipse cx="382.6" cy="640.4" rx="1.3" ry="0.7" fill="#0a3a70" opacity="0.34"/>
<ellipse cx="228.5" cy="592.7" rx="2.9" ry="1.5" fill="#4fb2ea" opacity="0.24"/>
<ellipse cx="236.8" cy="584.9" rx="3.0" ry="1.6" fill="#0a3a70" opacity="0.30"/>
<ellipse cx="209.4" cy="578.7" rx="2.4" ry="1.3" fill="#0a3a70" opacity="0.15"/>
<ellipse cx="334.3" cy="628.9" rx="1.8" ry="1.0" fill="#2f93d6" opacity="0.21"/>
<ellipse cx="466.2" cy="679.3" rx="2.9" ry="1.6" fill="#0a3a70" opacity="0.48"/>
<ellipse cx="261.1" cy="598.2" rx="1.7" ry="0.9" fill="#0a3a70" opacity="0.23"/>
<ellipse cx="301.6" cy="621.1" rx="2.7" ry="1.5" fill="#2f93d6" opacity="0.42"/>
<ellipse cx="355.5" cy="638.5" rx="2.5" ry="1.3" fill="#7ccaf2" opacity="0.31"/>
<ellipse cx="356.4" cy="640.8" rx="2.6" ry="1.4" fill="#1f7cc2" opacity="0.50"/>
<ellipse cx="308.6" cy="596.4" rx="1.8" ry="1.0" fill="#0a3a70" opacity="0.23"/>
<ellipse cx="294.4" cy="608.1" rx="1.4" ry="0.7" fill="#4fb2ea" opacity="0.20"/>
<ellipse cx="293.2" cy="606.0" rx="1.4" ry="0.7" fill="#3aa0e0" opacity="0.16"/>
<ellipse cx="215.0" cy="575.3" rx="2.2" ry="1.2" fill="#0a3a70" opacity="0.52"/>
<ellipse cx="317.7" cy="625.4" rx="2.1" ry="1.1" fill="#4fb2ea" opacity="0.52"/>
<ellipse cx="279.8" cy="597.3" rx="2.7" ry="1.5" fill="#0a3a70" opacity="0.27"/>
<ellipse cx="446.3" cy="669.6" rx="1.2" ry="0.6" fill="#1f7cc2" opacity="0.52"/>
<ellipse cx="192.9" cy="565.8" rx="2.9" ry="1.6" fill="#0a3a70" opacity="0.41"/>
<ellipse cx="219.8" cy="596.4" rx="2.8" ry="1.5" fill="#2f93d6" opacity="0.22"/>
<ellipse cx="188.5" cy="568.4" rx="1.8" ry="1.0" fill="#0a3a70" opacity="0.21"/>
<ellipse cx="407.0" cy="668.0" rx="2.8" ry="1.5" fill="#0a3a70" opacity="0.42"/>
<ellipse cx="415.7" cy="664.4" rx="2.2" ry="1.2" fill="#7ccaf2" opacity="0.40"/>
<ellipse cx="351.3" cy="641.9" rx="1.8" ry="1.0" fill="#3aa0e0" opacity="0.30"/>
<ellipse cx="307.1" cy="615.3" rx="2.1" ry="1.1" fill="#0a3a70" opacity="0.24"/>
<ellipse cx="352.4" cy="623.9" rx="2.7" ry="1.5" fill="#4fb2ea" opacity="0.31"/>
<ellipse cx="204.4" cy="580.5" rx="2.0" ry="1.1" fill="#4fb2ea" opacity="0.35"/>
<ellipse cx="197.3" cy="579.5" rx="1.7" ry="0.9" fill="#4fb2ea" opacity="0.44"/>
<ellipse cx="178.4" cy="570.9" rx="3.0" ry="1.6" fill="#0a3a70" opacity="0.20"/>
<ellipse cx="180.2" cy="566.4" rx="1.3" ry="0.7" fill="#1f7cc2" opacity="0.20"/>
<ellipse cx="258.6" cy="587.3" rx="2.5" ry="1.3" fill="#2f93d6" opacity="0.44"/>
<ellipse cx="181.4" cy="580.5" rx="1.4" ry="0.7" fill="#7ccaf2" opacity="0.51"/>
<ellipse cx="418.8" cy="667.6" rx="3.0" ry="1.6" fill="#3aa0e0" opacity="0.34"/>
<ellipse cx="237.7" cy="594.2" rx="1.1" ry="0.6" fill="#2f93d6" opacity="0.22"/>
<ellipse cx="348.8" cy="641.6" rx="1.8" ry="1.0" fill="#7ccaf2" opacity="0.47"/>
<ellipse cx="191.7" cy="576.3" rx="1.8" ry="1.0" fill="#3aa0e0" opacity="0.50"/>
<ellipse cx="310.8" cy="611.6" rx="1.6" ry="0.8" fill="#0a3a70" opacity="0.36"/>
<ellipse cx="284.5" cy="604.7" rx="3.1" ry="1.7" fill="#7ccaf2" opacity="0.38"/>
<ellipse cx="270.3" cy="604.2" rx="2.3" ry="1.2" fill="#7ccaf2" opacity="0.53"/>
<ellipse cx="401.3" cy="665.4" rx="3.1" ry="1.7" fill="#0a3a70" opacity="0.38"/>
<ellipse cx="421.2" cy="655.4" rx="1.5" ry="0.8" fill="#0a3a70" opacity="0.27"/>
<ellipse cx="274.0" cy="612.4" rx="1.3" ry="0.7" fill="#0a3a70" opacity="0.24"/>
<ellipse cx="195.7" cy="572.7" rx="1.7" ry="0.9" fill="#3aa0e0" opacity="0.36"/>
<ellipse cx="224.4" cy="586.1" rx="1.5" ry="0.8" fill="#1f7cc2" opacity="0.40"/>
<ellipse cx="232.5" cy="583.7" rx="2.5" ry="1.4" fill="#4fb2ea" opacity="0.33"/>
<ellipse cx="361.5" cy="628.9" rx="1.9" ry="1.0" fill="#4fb2ea" opacity="0.26"/>
<ellipse cx="195.9" cy="559.8" rx="2.3" ry="1.2" fill="#3aa0e0" opacity="0.38"/>
<ellipse cx="433.7" cy="665.5" rx="2.9" ry="1.6" fill="#3aa0e0" opacity="0.17"/>
<ellipse cx="181.1" cy="571.1" rx="2.9" ry="1.6" fill="#3aa0e0" opacity="0.19"/>
<ellipse cx="330.9" cy="625.5" rx="1.5" ry="0.8" fill="#3aa0e0" opacity="0.39"/>
<ellipse cx="342.6" cy="641.7" rx="2.1" ry="1.1" fill="#0a3a70" opacity="0.18"/>
<ellipse cx="197.7" cy="563.7" rx="2.5" ry="1.4" fill="#0a3a70" opacity="0.15"/>
<ellipse cx="297.4" cy="612.6" rx="2.4" ry="1.3" fill="#4fb2ea" opacity="0.22"/>
<ellipse cx="242.3" cy="591.9" rx="2.9" ry="1.6" fill="#0a3a70" opacity="0.52"/>
<ellipse cx="257.8" cy="597.3" rx="2.5" ry="1.3" fill="#3aa0e0" opacity="0.42"/>
<ellipse cx="438.3" cy="687.1" rx="2.9" ry="1.6" fill="#3aa0e0" opacity="0.18"/>
<ellipse cx="175.8" cy="571.1" rx="2.6" ry="1.4" fill="#0a3a70" opacity="0.53"/>
<ellipse cx="431.4" cy="673.0" rx="2.3" ry="1.2" fill="#0a3a70" opacity="0.30"/>
<ellipse cx="343.9" cy="627.3" rx="3.1" ry="1.7" fill="#0a3a70" opacity="0.34"/>
<ellipse cx="322.7" cy="624.5" rx="3.0" ry="1.6" fill="#7ccaf2" opacity="0.24"/>
<ellipse cx="383.7" cy="658.4" rx="2.2" ry="1.2" fill="#4fb2ea" opacity="0.22"/>
<ellipse cx="195.8" cy="576.6" rx="1.8" ry="0.9" fill="#4fb2ea" opacity="0.21"/>
<ellipse cx="189.0" cy="575.0" rx="1.1" ry="0.6" fill="#4fb2ea" opacity="0.18"/>
<ellipse cx="183.2" cy="569.3" rx="2.7" ry="1.5" fill="#0a3a70" opacity="0.48"/>
<ellipse cx="203.9" cy="562.6" rx="3.0" ry="1.6" fill="#2f93d6" opacity="0.19"/>
<ellipse cx="250.4" cy="590.8" rx="2.9" ry="1.6" fill="#4fb2ea" opacity="0.45"/>
<ellipse cx="398.0" cy="653.8" rx="1.2" ry="0.7" fill="#0a3a70" opacity="0.19"/>
<ellipse cx="350.7" cy="642.6" rx="1.6" ry="0.9" fill="#7ccaf2" opacity="0.29"/>
<ellipse cx="186.8" cy="557.3" rx="2.6" ry="1.4" fill="#1f7cc2" opacity="0.39"/>
<ellipse cx="408.7" cy="659.3" rx="1.9" ry="1.0" fill="#0a3a70" opacity="0.32"/>
<ellipse cx="196.8" cy="576.4" rx="2.2" ry="1.2" fill="#0a3a70" opacity="0.44"/>
<ellipse cx="199.8" cy="571.9" rx="1.0" ry="0.6" fill="#0a3a70" opacity="0.23"/>
<ellipse cx="390.0" cy="650.9" rx="1.2" ry="0.7" fill="#0a3a70" opacity="0.43"/>
<ellipse cx="215.4" cy="585.9" rx="2.8" ry="1.5" fill="#2f93d6" opacity="0.25"/>
<ellipse cx="254.5" cy="605.9" rx="2.1" ry="1.1" fill="#0a3a70" opacity="0.19"/>
<ellipse cx="359.1" cy="652.0" rx="2.2" ry="1.2" fill="#7ccaf2" opacity="0.19"/>
<ellipse cx="264.2" cy="608.3" rx="2.9" ry="1.6" fill="#0a3a70" opacity="0.18"/>
<ellipse cx="181.0" cy="572.3" rx="2.9" ry="1.6" fill="#1f7cc2" opacity="0.35"/>
<ellipse cx="432.4" cy="664.5" rx="1.3" ry="0.7" fill="#0a3a70" opacity="0.39"/>
<ellipse cx="377.8" cy="644.9" rx="1.7" ry="0.9" fill="#0a3a70" opacity="0.21"/>
<ellipse cx="290.6" cy="613.7" rx="2.0" ry="1.1" fill="#7ccaf2" opacity="0.43"/>
<ellipse cx="341.2" cy="634.6" rx="2.9" ry="1.6" fill="#2f93d6" opacity="0.25"/>
<ellipse cx="247.4" cy="583.7" rx="2.3" ry="1.3" fill="#2f93d6" opacity="0.44"/>
<ellipse cx="367.8" cy="642.6" rx="1.5" ry="0.8" fill="#7ccaf2" opacity="0.53"/>
<ellipse cx="444.5" cy="671.5" rx="3.0" ry="1.6" fill="#1f7cc2" opacity="0.19"/>
<ellipse cx="218.8" cy="586.0" rx="1.7" ry="0.9" fill="#4fb2ea" opacity="0.26"/>
<ellipse cx="355.4" cy="639.0" rx="1.8" ry="1.0" fill="#1f7cc2" opacity="0.16"/>
<ellipse cx="405.3" cy="662.3" rx="3.1" ry="1.7" fill="#4fb2ea" opacity="0.27"/>
<ellipse cx="204.4" cy="577.2" rx="2.6" ry="1.4" fill="#1f7cc2" opacity="0.51"/>
<ellipse cx="357.2" cy="639.0" rx="2.8" ry="1.5" fill="#0a3a70" opacity="0.42"/>
<ellipse cx="420.5" cy="654.4" rx="2.8" ry="1.5" fill="#0a3a70" opacity="0.42"/>
<ellipse cx="200.4" cy="580.8" rx="2.5" ry="1.3" fill="#2f93d6" opacity="0.51"/>
<ellipse cx="388.2" cy="644.4" rx="1.6" ry="0.8" fill="#1f7cc2" opacity="0.32"/>
<ellipse cx="184.4" cy="561.6" rx="2.4" ry="1.3" fill="#0a3a70" opacity="0.50"/>
<ellipse cx="280.8" cy="602.5" rx="2.9" ry="1.6" fill="#7ccaf2" opacity="0.19"/>
<ellipse cx="332.5" cy="634.7" rx="3.0" ry="1.6" fill="#4fb2ea" opacity="0.36"/>
<ellipse cx="403.3" cy="661.0" rx="2.0" ry="1.1" fill="#0a3a70" opacity="0.16"/>
<ellipse cx="395.0" cy="657.0" rx="3.0" ry="1.6" fill="#0a3a70" opacity="0.23"/>
<ellipse cx="202.6" cy="584.4" rx="2.6" ry="1.4" fill="#0a3a70" opacity="0.40"/>
<ellipse cx="186.5" cy="577.3" rx="1.1" ry="0.6" fill="#1f7cc2" opacity="0.32"/>
<ellipse cx="342.6" cy="628.4" rx="1.3" ry="0.7" fill="#1f7cc2" opacity="0.27"/>
<ellipse cx="428.9" cy="669.6" rx="2.7" ry="1.5" fill="#2f93d6" opacity="0.31"/>
<ellipse cx="221.1" cy="582.5" rx="2.7" ry="1.5" fill="#0a3a70" opacity="0.23"/>
<ellipse cx="332.9" cy="643.2" rx="1.8" ry="1.0" fill="#0a3a70" opacity="0.41"/>
<ellipse cx="369.0" cy="664.4" rx="2.6" ry="1.4" fill="#0a3a70" opacity="0.41"/>
<ellipse cx="394.7" cy="667.6" rx="1.6" ry="0.9" fill="#7ccaf2" opacity="0.30"/>
<ellipse cx="442.7" cy="668.9" rx="2.7" ry="1.5" fill="#7ccaf2" opacity="0.47"/>
<ellipse cx="237.3" cy="598.9" rx="1.9" ry="1.0" fill="#0a3a70" opacity="0.40"/>
<ellipse cx="427.6" cy="669.6" rx="1.8" ry="1.0" fill="#3aa0e0" opacity="0.18"/>
<ellipse cx="426.7" cy="663.2" rx="2.8" ry="1.5" fill="#4fb2ea" opacity="0.40"/>
<ellipse cx="356.9" cy="640.9" rx="1.6" ry="0.9" fill="#3aa0e0" opacity="0.39"/>
<ellipse cx="213.6" cy="591.3" rx="1.8" ry="0.9" fill="#1f7cc2" opacity="0.21"/>
<ellipse cx="403.0" cy="664.7" rx="2.3" ry="1.2" fill="#0a3a70" opacity="0.46"/>
<ellipse cx="412.2" cy="663.4" rx="1.7" ry="0.9" fill="#2f93d6" opacity="0.35"/>
<ellipse cx="320.1" cy="618.0" rx="2.9" ry="1.5" fill="#7ccaf2" opacity="0.37"/>
<ellipse cx="294.1" cy="605.9" rx="2.2" ry="1.2" fill="#2f93d6" opacity="0.34"/>
<ellipse cx="368.2" cy="647.0" rx="2.3" ry="1.2" fill="#2f93d6" opacity="0.44"/>
<ellipse cx="396.1" cy="660.7" rx="2.4" ry="1.3" fill="#7ccaf2" opacity="0.49"/>
<ellipse cx="304.7" cy="612.7" rx="1.4" ry="0.8" fill="#0a3a70" opacity="0.29"/>
<ellipse cx="169.5" cy="562.4" rx="3.0" ry="1.6" fill="#4fb2ea" opacity="0.28"/>
<ellipse cx="295.9" cy="623.4" rx="1.1" ry="0.6" fill="#0a3a70" opacity="0.44"/>
<ellipse cx="218.5" cy="584.1" rx="1.7" ry="0.9" fill="#3aa0e0" opacity="0.46"/>
<ellipse cx="390.1" cy="657.5" rx="1.9" ry="1.0" fill="#0a3a70" opacity="0.37"/>
<ellipse cx="246.5" cy="602.9" rx="1.7" ry="0.9" fill="#0a3a70" opacity="0.54"/>
<ellipse cx="326.8" cy="620.4" rx="2.7" ry="1.4" fill="#7ccaf2" opacity="0.28"/>
<ellipse cx="388.5" cy="656.4" rx="1.2" ry="0.7" fill="#1f7cc2" opacity="0.55"/>
<ellipse cx="382.9" cy="641.0" rx="1.1" ry="0.6" fill="#4fb2ea" opacity="0.27"/>
<ellipse cx="189.5" cy="564.1" rx="2.6" ry="1.4" fill="#3aa0e0" opacity="0.17"/>
<ellipse cx="417.2" cy="661.5" rx="2.3" ry="1.3" fill="#3aa0e0" opacity="0.43"/>
</g>
<circle cx="136.0" cy="647.0" r="0.95" fill="#3a3a3a"/><circle cx="140.1" cy="649.0" r="0.95" fill="#3a3a3a"/><circle cx="144.2" cy="651.0" r="0.95" fill="#3a3a3a"/><circle cx="148.2" cy="653.0" r="0.95" fill="#3a3a3a"/><circle cx="152.3" cy="655.0" r="0.95" fill="#3a3a3a"/><circle cx="156.4" cy="657.0" r="0.95" fill="#3a3a3a"/><circle cx="160.5" cy="659.0" r="0.95" fill="#3a3a3a"/><circle cx="164.6" cy="661.0" r="0.95" fill="#3a3a3a"/><circle cx="168.7" cy="663.0" r="0.95" fill="#3a3a3a"/><circle cx="172.8" cy="665.0" r="0.95" fill="#3a3a3a"/><circle cx="176.8" cy="667.0" r="0.95" fill="#3a3a3a"/><circle cx="180.9" cy="669.0" r="0.95" fill="#3a3a3a"/><circle cx="185.0" cy="671.0" r="0.95" fill="#3a3a3a"/>
<circle cx="228.5" cy="690.5" r="0.95" fill="#3a3a3a"/><circle cx="232.5" cy="692.4" r="0.95" fill="#3a3a3a"/><circle cx="236.6" cy="694.3" r="0.95" fill="#3a3a3a"/><circle cx="240.6" cy="696.2" r="0.95" fill="#3a3a3a"/><circle cx="244.6" cy="698.1" r="0.95" fill="#3a3a3a"/><circle cx="248.7" cy="700.0" r="0.95" fill="#3a3a3a"/><circle cx="252.7" cy="701.9" r="0.95" fill="#3a3a3a"/><circle cx="256.8" cy="703.8" r="0.95" fill="#3a3a3a"/><circle cx="260.8" cy="705.6" r="0.95" fill="#3a3a3a"/><circle cx="264.8" cy="707.5" r="0.95" fill="#3a3a3a"/><circle cx="268.9" cy="709.4" r="0.95" fill="#3a3a3a"/><circle cx="272.9" cy="711.3" r="0.95" fill="#3a3a3a"/><circle cx="276.9" cy="713.2" r="0.95" fill="#3a3a3a"/><circle cx="281.0" cy="715.1" r="0.95" fill="#3a3a3a"/><circle cx="285.0" cy="717.0" r="0.95" fill="#3a3a3a"/>
<path d="M199,676 L215,684" stroke="#555" stroke-width="3" stroke-linecap="round"/>
<path d="M203,678 L211,682" stroke="#ccc" stroke-width="1.2" stroke-linecap="round"/>
<path d="M869.5,528.5 L885.5,521.3" stroke="#4d5056" stroke-width="1.6" stroke-linecap="round"/>
<path d="M902,512.7 L924,502.7" stroke="#4d5056" stroke-width="1.6" stroke-linecap="round"/>
<path d="M438,726 L476,708" stroke="#c9cbd0" stroke-width="1.4" stroke-linecap="round"/>
<circle cx="760" cy="428" r="1.2" fill="#777"/>
</g>

<g id="frame">
<!-- left bar (glossy, nearly white) -->
<polygon points="73,410.5 300,318.3 500,240 597,199 600,222 592,222 500,255.8 300,338.3 118,413" fill="url(#lbar)"/>
<polyline points="73,410.5 300,318.3 500,240 597,199" fill="none" stroke="#f9c4c7" stroke-width="1.5"/>
<polyline points="118,413 300,338.3 500,255.8 592,222" fill="none" stroke="#f9cacd" stroke-width="1.5"/>
<!-- top bar -->
<path d="M592,222 L597,199 Q612,192 626,196 L953,286 Q966,292 965,306 L957,298 L910,312 Z" fill="url(#tbar)"/>
<polygon points="597,199 612,195 640,222 592,222" fill="#fbdadb"/>
<polygon points="646,200 657,197.5 677,204.5 678,211 646,203" fill="#f8c6c9"/>
<ellipse cx="756" cy="250" rx="17" ry="10.5" transform="rotate(14 756 250)" fill="#efb2b4"/>
<ellipse cx="754" cy="255" rx="9.5" ry="5.5" transform="rotate(14 754 255)" fill="#fff"/>
<!-- right bar : front face -->
<path d="M957,294 Q966,296 965,308 L955,318 L890,349.5 L855,365 L790,395.5 L760,410.5 L660,456.5 L610,480 L410,573 L372,580 L424,553 L660,440.5 L780,384 L908,320 Z" fill="#fbd0d3"/>
<!-- tabs under right bar -->
<path d="M820.8,380 L854.2,365 L854.5,369.5 Q854,374 850,376 L826,387.5 Q821,388.5 820,384 Z" fill="#fbcdd0"/>
<path d="M448,555 L490,535.5 L490,543.5 Q490,546 486.5,547.5 L455,560.5 Q449,561.5 448.5,558 Z" fill="#fbcdd0"/>
<!-- right bar : top face (dark lip) -->
<polygon points="910,312 945,297 957,294 960,298 908,322 780,385 760,395 660,441 424,553 420,548.5 403,542 660,429 760,382 780,372.5" fill="url(#rlip)"/>
<path d="M960,294 Q958,297 950,301 L908,321.5 L780,385 L760,395 L660,441 L426,552" fill="none" stroke="#c28c8f" stroke-width="2.2"/>
<!-- front bar front face -->
<path d="M55,425 Q57,413 73,411 L115,412.5 L217,461 L197,477 L237,496 L278,491 L403,542 L424,556 L420,572 L392,579 Q372,583 340,573 L303,555 L220,516.5 L173,494 L103,461 L75,449 L57,438 Q54,432 55,425 Z" fill="#fbd0d3"/>
<!-- tabs under front bar -->
<path d="M75,449 L103,461 L103,467 L98,468 L97,463 L86,462 L76,455 Z" fill="#f9c9cc"/>
<path d="M97,463 L99,462 L99,468 L97,468 Z" fill="#c99a9c"/>
<path d="M172,497 L182,492 L209,504 L208,512 L203,516 L174,503 Z" fill="#fbd0d3"/>
<polygon points="182,492 209,504 208,509 181,497" fill="#f6bec1"/>
<path d="M305,555 L337,571 L337,577 L333,578 L332,574 L322,573 L306,563 Z" fill="#f9c9cc"/>
<path d="M332,574 L334,573 L334,578 L332,578 Z" fill="#c99a9c"/>
<!-- front bar groove -->
<path d="M57,421 L62,423.5 L140,460 L220,498.3 L353,555 Q370,561 387,558.5 L420,548.5 L424,556 L390,565.5 Q370,569 352,562 L220,505 L140,466 L58,430 Q55,426 57,421 Z" fill="url(#groove)"/>
<!-- front bar top face -->
<path d="M60,420 Q62,412 73,411.5 L115,412.5 L217,461 L217,463.5 L197,477 L237,496 L278,491 Q281,490 284,492 L403,542 L420,548.5 L387,558.5 Q370,561 353,555 L220,498.3 L140,460 L62,423.5 Z" fill="url(#ftop)"/>
</g>

<!--LINES-->
<g id="leaders" stroke="#bebebe" stroke-width="3" fill="none">
<line x1="630" y1="215.3" x2="893.8" y2="215.3"/>
<line x1="814" y1="519.3" x2="992.5" y2="519.3"/>
<line x1="703.5" y1="772.4" x2="881" y2="772.4"/>
<line x1="591" y1="1046.4" x2="770" y2="1046.4"/>
</g>
<!--TEXT-->
<g id="labels">
<text class="h t" font-size="64.35" y="75.2"><tspan x="149.74" textLength="37.95" lengthAdjust="spacingAndGlyphs">3</tspan> <tspan x="207.56" textLength="191.59" lengthAdjust="spacingAndGlyphs">Layers</tspan> <tspan x="418.03" textLength="174.44" lengthAdjust="spacingAndGlyphs">Multi-</tspan> <tspan x="591.92" textLength="315.34" lengthAdjust="spacingAndGlyphs">Functional</tspan> <tspan x="926.60" textLength="146.40" lengthAdjust="spacingAndGlyphs">Case</tspan></text>
<text class="b" font-size="32.61" y="144"><tspan x="250.59" textLength="91.21" lengthAdjust="spacingAndGlyphs">Shock</tspan> <tspan x="354.57" textLength="79.08" lengthAdjust="spacingAndGlyphs">Proof</tspan> <tspan x="445.40" textLength="8.70" lengthAdjust="spacingAndGlyphs">/</tspan> <tspan x="464.35" textLength="90.92" lengthAdjust="spacingAndGlyphs">Pencil</tspan> <tspan x="566.36" textLength="98.10" lengthAdjust="spacingAndGlyphs">Holder</tspan> <tspan x="676.60" textLength="8.43" lengthAdjust="spacingAndGlyphs">/</tspan> <tspan x="696.43" textLength="103.14" lengthAdjust="spacingAndGlyphs">Built-in</tspan> <tspan x="809.53" textLength="138.93" lengthAdjust="spacingAndGlyphs">Kickatant</tspan></text>
<text class="h s" font-size="28.12" y="222.3"><tspan x="926.82" textLength="62.83" lengthAdjust="spacingAndGlyphs">Hard</tspan> <tspan x="999.17" textLength="93.79" lengthAdjust="spacingAndGlyphs">Plastic</tspan> <tspan x="1101.70" textLength="68.34" lengthAdjust="spacingAndGlyphs">Shell</tspan></text>
<text font-size="20.72" y="260.9"><tspan x="927.80" textLength="83.49" lengthAdjust="spacingAndGlyphs" font-weight="700" fill="#f40000">Without</tspan> <tspan x="1018.80" textLength="66.66" lengthAdjust="spacingAndGlyphs" font-weight="400" fill="#0a0a0a">screen</tspan> <tspan x="1092.41" textLength="89.38" lengthAdjust="spacingAndGlyphs" font-weight="400" fill="#0a0a0a">protector</tspan></text>
<text class="h s" font-size="28.7" y="526.8"><tspan x="1026.50" textLength="58.76" lengthAdjust="spacingAndGlyphs">Ipad</tspan> <tspan x="1093.47" textLength="85.31" lengthAdjust="spacingAndGlyphs">Model</tspan></text>
<text class="h s" font-size="28.12" y="779.5"><tspan x="914.92" textLength="62.52" lengthAdjust="spacingAndGlyphs">Hard</tspan> <tspan x="987.44" textLength="37.45" lengthAdjust="spacingAndGlyphs">PC</tspan> <tspan x="1034.54" textLength="66.10" lengthAdjust="spacingAndGlyphs">Inner</tspan> <tspan x="1111.60" textLength="69.57" lengthAdjust="spacingAndGlyphs">Shell</tspan></text>
<text class="b" font-size="21.45" y="818.3"><tspan x="916.60" textLength="42.92" lengthAdjust="spacingAndGlyphs">With</tspan> <tspan x="967.23" textLength="67.35" lengthAdjust="spacingAndGlyphs">built-in</tspan> <tspan x="1041.25" textLength="87.20" lengthAdjust="spacingAndGlyphs">kickstant</tspan></text>
<text class="h s" font-size="28.26" y="1053.2"><tspan x="802.80" textLength="54.31" lengthAdjust="spacingAndGlyphs">Soft</tspan> <tspan x="867.50" textLength="108.71" lengthAdjust="spacingAndGlyphs">Silicone</tspan> <tspan x="986.00" textLength="57.92" lengthAdjust="spacingAndGlyphs">Skin</tspan></text>
<text class="b" font-size="21.67" y="1099.75"><tspan x="805.50" textLength="43.96" lengthAdjust="spacingAndGlyphs">With</tspan> <tspan x="856.04" textLength="59.71" lengthAdjust="spacingAndGlyphs">pencil</tspan> <tspan x="921.75" textLength="63.38" lengthAdjust="spacingAndGlyphs">holder</tspan> <tspan x="992.90" textLength="12.61" lengthAdjust="spacingAndGlyphs">&amp;</tspan> <tspan x="1012.66" textLength="67.75" lengthAdjust="spacingAndGlyphs">Impact</tspan> <tspan x="1087.20" textLength="85.92" lengthAdjust="spacingAndGlyphs">resistant</tspan></text>
</g>

</svg>
</body>
</html>
